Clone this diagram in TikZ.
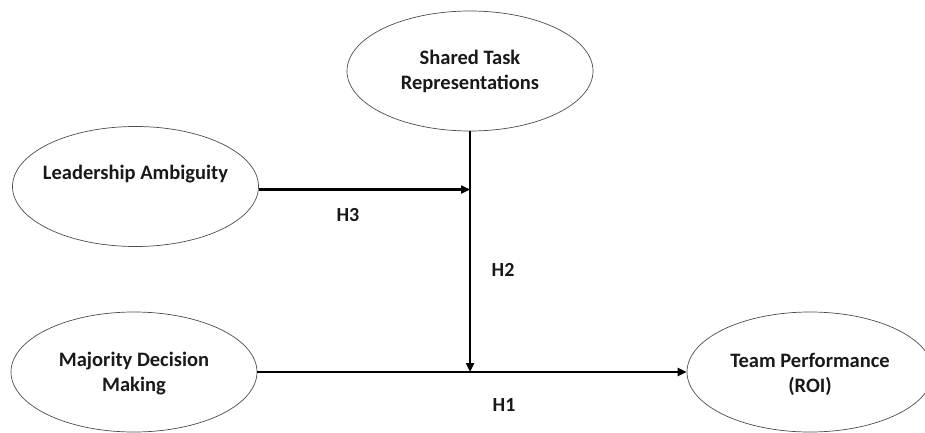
\documentclass[tikz,border=0pt]{standalone}
\usepackage{fontspec}
\setmainfont{Carlito}
\usetikzlibrary{shapes.geometric,arrows.meta}
\begin{document}
\begin{tikzpicture}[x=1pt,y=-1pt,
  oval/.style={ellipse,draw=black!70,line width=0.7pt,minimum width=246pt,minimum height=120pt,inner sep=0pt},
  lbl/.style={font=\fontsize{20.5}{25}\selectfont\bfseries,align=center,text=black!90},
  hyp/.style={font=\fontsize{20}{22}\selectfont\bfseries,text=black!90},
  conn/.style={line width=2.8pt,-{Triangle[length=9pt,width=8pt]}}]
\useasboundingbox (0,0) rectangle (925,433);
\node[oval] (shared) at (470,71) {};
\node[lbl] (sharedt) at (shared.center) {Shared Task\\Representations};
\node[oval] (lead) at (135.5,186.5) {};
\node[lbl] (leadt) at ([yshift=12pt]lead.center) {Leadership Ambiguity};
\node[oval] (maj) at (134,372) {};
\node[lbl] (majt) at ([yshift=-2pt]maj.center) {Majority Decision\\Making};
\node[oval] (team) at (810,372) {};
\node[lbl] (teamt) at ([yshift=-2pt]team.center) {Team Performance\\(ROI)};
\coordinate (mid) at (maj.east -| shared.south);
\coordinate (join) at ([yshift=-3pt]lead.east -| shared.south);
\draw[conn] (maj.east) -- (team.west);
\draw[conn] (shared.south) -- (mid);
\draw[conn] ([yshift=-3pt]lead.east) -- (join);
\node[hyp] (h3) at (348,215) {H3};
\node[hyp] (h2) at (503,270) {H2};
\node[hyp] (h1) at (504,405) {H1};
\end{tikzpicture}
\end{document}
